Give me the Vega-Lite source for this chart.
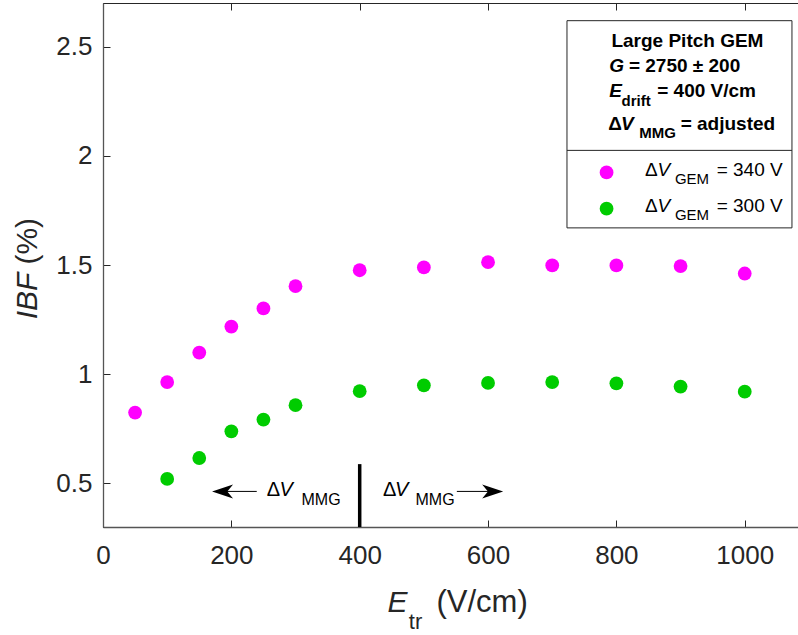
{
  "$schema": "https://vega.github.io/schema/vega-lite/v6.json",
  "width": 695,
  "height": 524,
  "autosize": {"type": "none"},
  "padding": {"left": 103, "top": 3, "right": 0, "bottom": 108},
  "background": "white",
  "config": {
    "view": {"stroke": "#262626", "strokeWidth": 1},
    "font": "Liberation Sans",
    "axis": {
      "labelFont": "Liberation Sans",
      "labelFontSize": 26,
      "labelColor": "#262626",
      "tickColor": "#262626",
      "tickWidth": 1,
      "domainColor": "#555555",
      "domainWidth": 1.3,
      "grid": false,
      "labelFlush": false
    },
    "text": {"font": "Liberation Sans", "color": "#000000"}
  },
  "datasets": {
    "pts": [
      {"x": 50, "y": 0.824, "s": "340 V"},
      {"x": 100, "y": 0.964, "s": "340 V"},
      {"x": 150, "y": 1.099, "s": "340 V"},
      {"x": 200, "y": 1.218, "s": "340 V"},
      {"x": 250, "y": 1.301, "s": "340 V"},
      {"x": 300, "y": 1.403, "s": "340 V"},
      {"x": 400, "y": 1.476, "s": "340 V"},
      {"x": 500, "y": 1.489, "s": "340 V"},
      {"x": 600, "y": 1.513, "s": "340 V"},
      {"x": 700, "y": 1.498, "s": "340 V"},
      {"x": 800, "y": 1.498, "s": "340 V"},
      {"x": 900, "y": 1.495, "s": "340 V"},
      {"x": 1000, "y": 1.461, "s": "340 V"},
      {"x": 100, "y": 0.520, "s": "300 V"},
      {"x": 150, "y": 0.616, "s": "300 V"},
      {"x": 200, "y": 0.738, "s": "300 V"},
      {"x": 250, "y": 0.792, "s": "300 V"},
      {"x": 300, "y": 0.858, "s": "300 V"},
      {"x": 400, "y": 0.922, "s": "300 V"},
      {"x": 500, "y": 0.949, "s": "300 V"},
      {"x": 600, "y": 0.960, "s": "300 V"},
      {"x": 700, "y": 0.964, "s": "300 V"},
      {"x": 800, "y": 0.958, "s": "300 V"},
      {"x": 900, "y": 0.943, "s": "300 V"},
      {"x": 1000, "y": 0.920, "s": "300 V"}
    ],
    "legendPts": [
      {"x": 784.7, "y": 1.924, "s": "340 V"},
      {"x": 784.7, "y": 1.758, "s": "300 V"}
    ],
    "box": [{"x": 723, "x2": 1073.6, "y": 1.670, "y2": 2.619}],
    "divider": [{"x": 723, "x2": 1073.6, "y": 2.025}],
    "hdrCenter": [{"x": 910.7, "y": 2.5, "t": "Large Pitch GEM"}],
    "hdrBold": [
      {"x": 819.5, "y": 2.383, "t": "= 2750 ± 200"},
      {"x": 863.6, "y": 2.269, "t": "= 400 V/cm"},
      {"x": 787.3, "y": 2.119, "t": "Δ"},
      {"x": 900.1, "y": 2.119, "t": "= adjusted"}
    ],
    "hdrBoldItalic": [
      {"x": 788.8, "y": 2.383, "t": "G"},
      {"x": 788.8, "y": 2.269, "t": "E"},
      {"x": 807, "y": 2.119, "t": "V"}
    ],
    "hdrSub": [
      {"x": 808.1, "y": 2.229, "t": "drift"},
      {"x": 835.6, "y": 2.081, "t": "MMG"}
    ],
    "legNormal": [
      {"x": 844.4, "y": 1.909, "t": "Δ"},
      {"x": 956.2, "y": 1.909, "t": "= 340 V"},
      {"x": 844.4, "y": 1.743, "t": "Δ"},
      {"x": 956.2, "y": 1.743, "t": "= 300 V"}
    ],
    "legItalic": [
      {"x": 864, "y": 1.909, "t": "V"},
      {"x": 864, "y": 1.743, "t": "V"}
    ],
    "legSub": [
      {"x": 891.2, "y": 1.871, "t": "GEM"},
      {"x": 891.2, "y": 1.705, "t": "GEM"}
    ],
    "annNormal": [
      {"x": 255.2, "y": 0.443, "t": "Δ"},
      {"x": 436.5, "y": 0.443, "t": "Δ"}
    ],
    "annItalic": [
      {"x": 275, "y": 0.443, "t": "V"},
      {"x": 455, "y": 0.443, "t": "V"}
    ],
    "annSub": [
      {"x": 309.3, "y": 0.401, "t": "MMG"},
      {"x": 487.0, "y": 0.401, "t": "MMG"}
    ],
    "shafts": [
      {"x": 186.3, "x2": 239.6, "y": 0.463},
      {"x": 551.4, "x2": 607.2, "y": 0.463}
    ],
    "headLeft": [{"x": 186.3, "y": 0.463}],
    "headRight": [{"x": 607.2, "y": 0.463}],
    "divLine": [{"x": 400, "y": 0.3, "y2": 0.588}],
    "yTitleItalic": [{"x": -116.6, "y": 1.251, "t": "IBF"}],
    "yTitleNormal": [{"x": -116.6, "y": 1.502, "t": "(%)"}],
    "xTitleItalic": [{"x": 443.3, "y": -0.0896, "t": "E"}],
    "xTitleSub": [{"x": 476.5, "y": -0.166, "t": "tr"}],
    "xTitleNormal": [{"x": 519.7, "y": -0.0896, "t": "(V/cm)"}]
  },
  "layer": [
    {
      "layer": [
        {
          "data": {"name": "pts"},
          "mark": {"type": "point", "filled": true, "opacity": 1, "size": 190},
          "encoding": {
            "x": {
              "field": "x", "type": "quantitative",
              "scale": {"domain": [0, 1083], "nice": false, "zero": false},
              "axis": {"values": [0, 200, 400, 600, 800, 1000], "format": "d", "title": null, "tickSize": -7, "labelPadding": 22}
            },
            "y": {
              "field": "y", "type": "quantitative",
              "scale": {"domain": [0.3, 2.7], "nice": false, "zero": false},
              "axis": {"values": [0.5, 1, 1.5, 2, 2.5], "format": "~g", "title": null, "tickSize": -7, "labelPadding": 18}
            },
            "color": {"field": "s", "type": "nominal", "scale": {"domain": ["340 V", "300 V"], "range": ["#ff00ff", "#00cc00"]}, "legend": null}
          }
        },
        {
          "data": {"name": "box"},
          "mark": {"type": "rect", "fill": "white", "stroke": "#262626", "strokeWidth": 1},
          "encoding": {
            "x": {"field": "x", "type": "quantitative"},
            "x2": {"field": "x2"},
            "y": {"field": "y", "type": "quantitative"},
            "y2": {"field": "y2"}
          }
        },
        {
          "data": {"name": "divider"},
          "mark": {"type": "rule", "color": "#262626", "strokeWidth": 1},
          "encoding": {
            "x": {"field": "x", "type": "quantitative"},
            "x2": {"field": "x2"},
            "y": {"field": "y", "type": "quantitative"}
          }
        },
        {
          "data": {"name": "legendPts"},
          "mark": {"type": "point", "filled": true, "opacity": 1, "size": 190},
          "encoding": {
            "x": {"field": "x", "type": "quantitative"},
            "y": {"field": "y", "type": "quantitative"},
            "color": {"field": "s", "type": "nominal", "legend": null}
          }
        },
        {
          "data": {"name": "hdrCenter"},
          "mark": {"type": "text", "fontSize": 19, "fontWeight": "bold", "align": "center", "baseline": "alphabetic"},
          "encoding": {"x": {"field": "x", "type": "quantitative"}, "y": {"field": "y", "type": "quantitative"}, "text": {"field": "t"}}
        },
        {
          "data": {"name": "hdrBold"},
          "mark": {"type": "text", "fontSize": 19, "fontWeight": "bold", "align": "left", "baseline": "alphabetic"},
          "encoding": {"x": {"field": "x", "type": "quantitative"}, "y": {"field": "y", "type": "quantitative"}, "text": {"field": "t"}}
        },
        {
          "data": {"name": "hdrBoldItalic"},
          "mark": {"type": "text", "fontSize": 19, "fontWeight": "bold", "fontStyle": "italic", "align": "left", "baseline": "alphabetic"},
          "encoding": {"x": {"field": "x", "type": "quantitative"}, "y": {"field": "y", "type": "quantitative"}, "text": {"field": "t"}}
        },
        {
          "data": {"name": "hdrSub"},
          "mark": {"type": "text", "fontSize": 15, "fontWeight": "bold", "align": "left", "baseline": "alphabetic"},
          "encoding": {"x": {"field": "x", "type": "quantitative"}, "y": {"field": "y", "type": "quantitative"}, "text": {"field": "t"}}
        },
        {
          "data": {"name": "legNormal"},
          "mark": {"type": "text", "fontSize": 19, "align": "left", "baseline": "alphabetic"},
          "encoding": {"x": {"field": "x", "type": "quantitative"}, "y": {"field": "y", "type": "quantitative"}, "text": {"field": "t"}}
        },
        {
          "data": {"name": "legItalic"},
          "mark": {"type": "text", "fontSize": 19, "fontStyle": "italic", "align": "left", "baseline": "alphabetic"},
          "encoding": {"x": {"field": "x", "type": "quantitative"}, "y": {"field": "y", "type": "quantitative"}, "text": {"field": "t"}}
        },
        {
          "data": {"name": "legSub"},
          "mark": {"type": "text", "fontSize": 15, "align": "left", "baseline": "alphabetic"},
          "encoding": {"x": {"field": "x", "type": "quantitative"}, "y": {"field": "y", "type": "quantitative"}, "text": {"field": "t"}}
        },
        {
          "data": {"name": "annNormal"},
          "mark": {"type": "text", "fontSize": 20, "align": "left", "baseline": "alphabetic"},
          "encoding": {"x": {"field": "x", "type": "quantitative"}, "y": {"field": "y", "type": "quantitative"}, "text": {"field": "t"}}
        },
        {
          "data": {"name": "annItalic"},
          "mark": {"type": "text", "fontSize": 20, "fontStyle": "italic", "align": "left", "baseline": "alphabetic"},
          "encoding": {"x": {"field": "x", "type": "quantitative"}, "y": {"field": "y", "type": "quantitative"}, "text": {"field": "t"}}
        },
        {
          "data": {"name": "annSub"},
          "mark": {"type": "text", "fontSize": 16, "align": "left", "baseline": "alphabetic"},
          "encoding": {"x": {"field": "x", "type": "quantitative"}, "y": {"field": "y", "type": "quantitative"}, "text": {"field": "t"}}
        },
        {
          "data": {"name": "shafts"},
          "mark": {"type": "rule", "color": "#000000", "strokeWidth": 1},
          "encoding": {
            "x": {"field": "x", "type": "quantitative"},
            "x2": {"field": "x2"},
            "y": {"field": "y", "type": "quantitative"}
          }
        },
        {
          "data": {"name": "headLeft"},
          "mark": {"type": "point", "filled": true, "opacity": 1, "color": "#000000", "size": 441, "shape": "M-1,0L1,-0.67L0.45,0L1,0.67Z"},
          "encoding": {"x": {"field": "x", "type": "quantitative"}, "y": {"field": "y", "type": "quantitative"}}
        },
        {
          "data": {"name": "headRight"},
          "mark": {"type": "point", "filled": true, "opacity": 1, "color": "#000000", "size": 441, "shape": "M1,0L-1,-0.67L-0.45,0L-1,0.67Z"},
          "encoding": {"x": {"field": "x", "type": "quantitative"}, "y": {"field": "y", "type": "quantitative"}}
        },
        {
          "data": {"name": "divLine"},
          "mark": {"type": "rule", "color": "#000000", "strokeWidth": 3.5},
          "encoding": {
            "x": {"field": "x", "type": "quantitative"},
            "y": {"field": "y", "type": "quantitative"},
            "y2": {"field": "y2"}
          }
        },
        {
          "data": {"name": "yTitleItalic"},
          "mark": {"type": "text", "fontSize": 30, "fontStyle": "italic", "angle": 270, "align": "left", "baseline": "middle", "color": "#262626"},
          "encoding": {"x": {"field": "x", "type": "quantitative"}, "y": {"field": "y", "type": "quantitative"}, "text": {"field": "t"}}
        },
        {
          "data": {"name": "yTitleNormal"},
          "mark": {"type": "text", "fontSize": 30, "angle": 270, "align": "left", "baseline": "middle", "color": "#262626"},
          "encoding": {"x": {"field": "x", "type": "quantitative"}, "y": {"field": "y", "type": "quantitative"}, "text": {"field": "t"}}
        },
        {
          "data": {"name": "xTitleItalic"},
          "mark": {"type": "text", "fontSize": 30, "fontStyle": "italic", "align": "left", "baseline": "alphabetic", "color": "#262626"},
          "encoding": {"x": {"field": "x", "type": "quantitative"}, "y": {"field": "y", "type": "quantitative"}, "text": {"field": "t"}}
        },
        {
          "data": {"name": "xTitleSub"},
          "mark": {"type": "text", "fontSize": 22, "align": "left", "baseline": "alphabetic", "color": "#262626"},
          "encoding": {"x": {"field": "x", "type": "quantitative"}, "y": {"field": "y", "type": "quantitative"}, "text": {"field": "t"}}
        },
        {
          "data": {"name": "xTitleNormal"},
          "mark": {"type": "text", "fontSize": 31, "align": "left", "baseline": "alphabetic", "color": "#262626"},
          "encoding": {"x": {"field": "x", "type": "quantitative"}, "y": {"field": "y", "type": "quantitative"}, "text": {"field": "t"}}
        }
      ]
    },
    {
      "data": {"values": [{"x": 0}]},
      "mark": {"type": "point", "opacity": 0},
      "encoding": {
        "x": {
          "field": "x", "type": "quantitative",
          "axis": {"orient": "top", "labels": false, "domain": false, "title": null, "tickSize": -7, "values": [0, 200, 400, 600, 800, 1000]}
        }
      }
    }
  ],
  "resolve": {"axis": {"x": "independent"}}
}
